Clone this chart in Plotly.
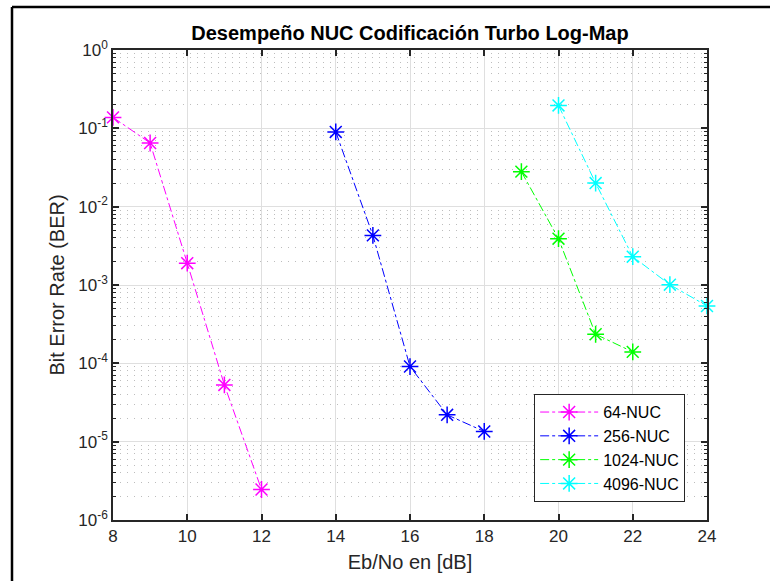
import plotly.graph_objects as go

# Data
ebno_64 = [8, 9, 10, 11, 12]
ber_64 = [0.138, 0.065, 0.0019, 5.3e-5, 2.45e-6]
ebno_256 = [14, 15, 16, 17, 18]
ber_256 = [0.09, 0.0043, 9.1e-5, 2.2e-5, 1.35e-5]
ebno_1024 = [19, 20, 21, 22]
ber_1024 = [0.028, 0.0039, 2.35e-4, 1.4e-4]
ebno_4096 = [20, 21, 22, 23, 24]
ber_4096 = [0.196, 0.02, 0.0023, 0.00101, 5.4e-4]

names = ["64-NUC", "256-NUC", "1024-NUC", "4096-NUC"]
colors = ["#FF00FF", "#0000FF", "#00FF00", "#00FFFF"]
xs = [ebno_64, ebno_256, ebno_1024, ebno_4096]
ys = [ber_64, ber_256, ber_1024, ber_4096]

ytick_vals = [1e-6, 1e-5, 1e-4, 1e-3, 1e-2, 1e-1, 1e0]
ytick_text = ["10<sup>-6</sup>", "10<sup>-5</sup>", "10<sup>-4</sup>", "10<sup>-3</sup>",
              "10<sup>-2</sup>", "10<sup>-1</sup>", "10<sup>0</sup>"]
xtick_vals = [8, 10, 12, 14, 16, 18, 20, 22, 24]

FONT = "Liberation Sans, Arial, Helvetica, sans-serif"
AX = "#262626"

fig = go.Figure()
for x, y, n, c in zip(xs, ys, names, colors):
    fig.add_trace(go.Scatter(
        x=x, y=y, name=n, mode="lines+markers", cliponaxis=False,
        line=dict(color=c, width=1, dash="dashdot"),
        marker=dict(symbol="asterisk-open", size=14, color=c, line=dict(color=c, width=1.5)),
    ))

fig.update_layout(
    width=770, height=581,
    margin=dict(l=113, r=63, t=50, b=61),
    paper_bgcolor="white", plot_bgcolor="white",
    font=dict(family=FONT, size=17, color=AX),
    title=dict(text="<b>Desempeño NUC Codificación Turbo Log-Map</b>",
               x=0.5, xref="paper", xanchor="center",
               y=1 - 33 / 581, yanchor="middle",
               font=dict(family=FONT, size=20, color="#000000")),
    showlegend=True,
    legend=dict(x=0.709, y=0.038, xanchor="left", yanchor="bottom",
                bgcolor="white", bordercolor="#262626", borderwidth=1,
                font=dict(family=FONT, size=16, color="#000000"),
                tracegroupgap=0, itemwidth=58),
)

fig.update_xaxes(
    range=[8, 24], tickvals=xtick_vals, ticks="inside", ticklen=6, tickwidth=1.5,
    tickcolor=AX, showline=True, linecolor=AX, linewidth=1.5, mirror="ticks",
    showgrid=True, gridcolor="#DFDFDF", gridwidth=1, zeroline=False,
    title=dict(text="Eb/No en [dB]", font=dict(size=20, color=AX), standoff=10),
    tickfont=dict(size=17, color=AX),
)
fig.update_yaxes(
    type="log", range=[-6, 0], tickvals=ytick_vals, ticktext=ytick_text,
    ticks="inside", ticklen=6, tickwidth=1.5, tickcolor=AX,
    showline=True, linecolor=AX, linewidth=1.5, mirror="ticks",
    showgrid=True, gridcolor="#DFDFDF", gridwidth=1, zeroline=False,
    minor=dict(dtick="D1", ticks="inside", ticklen=3, tickcolor=AX, tickwidth=1,
               showgrid=True, gridcolor="#BDBDBD", griddash="1px,6px", gridwidth=1),
    title=dict(text="Bit Error Rate (BER)", font=dict(size=20, color=AX), standoff=8),
    tickfont=dict(size=17, color=AX),
)

# decorative outer frame (left and top edges)
fx = (12 - 113) / 594
fy = (520 - 7) / 470
fig.add_shape(type="line", xref="paper", yref="paper", x0=fx, x1=fx, y0=-0.3, y1=fy,
              line=dict(color="black", width=2.5))
fig.add_shape(type="line", xref="paper", yref="paper", x0=fx, x1=1.2, y0=fy, y1=fy,
              line=dict(color="black", width=2.5))

fig.write_html("out.html")
